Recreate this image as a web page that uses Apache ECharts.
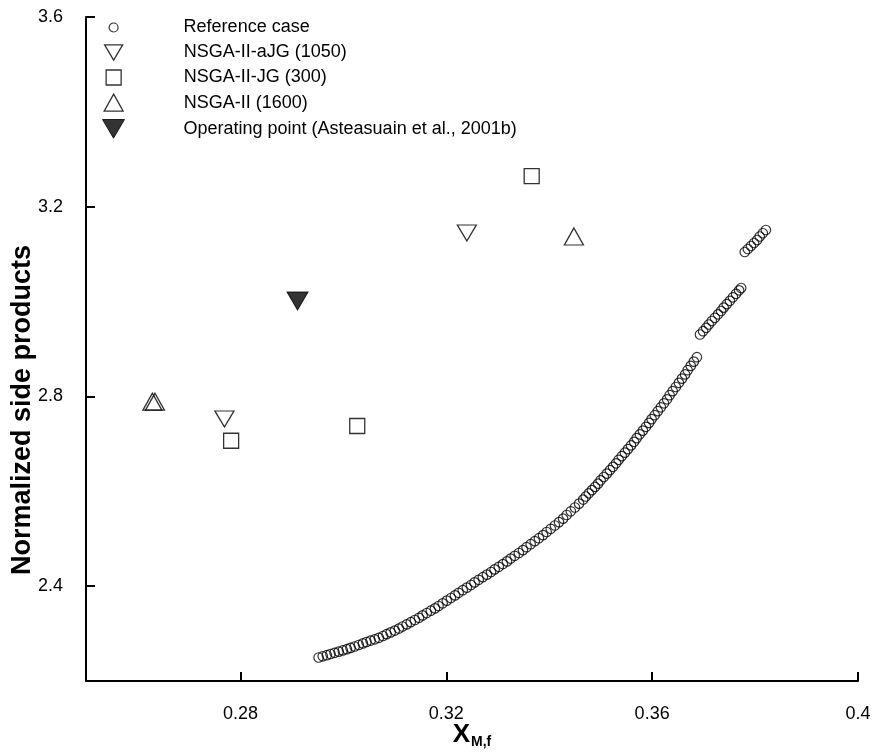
<!DOCTYPE html>
<html>
<head>
<meta charset="utf-8">
<script src="https://cdn.jsdelivr.net/npm/echarts@6/dist/echarts.min.js"></script>
<style>
  html, body { margin: 0; padding: 0; background: #fff; }
  #chart { width: 873px; height: 753px; }
</style>
</head>
<body>
<div id="chart"></div>
<script>
// Reference Pareto front: conversion X_M,f vs normalized side products
const referenceCase = [
  [0.2952, 2.2495], [0.2960, 2.2521], [0.2968, 2.2544], [0.2975, 2.2569], [0.2983, 2.2595],
  [0.2991, 2.2620], [0.2999, 2.2645], [0.3007, 2.2670], [0.3014, 2.2698], [0.3022, 2.2727],
  [0.3030, 2.2759], [0.3038, 2.2793], [0.3045, 2.2822], [0.3053, 2.2852], [0.3061, 2.2879],
  [0.3069, 2.2911], [0.3077, 2.2949], [0.3084, 2.2987], [0.3092, 2.3025], [0.3100, 2.3063],
  [0.3108, 2.3105], [0.3115, 2.3149], [0.3123, 2.3193], [0.3131, 2.3240], [0.3139, 2.3286],
  [0.3147, 2.3333], [0.3154, 2.3383], [0.3162, 2.3434], [0.3170, 2.3482], [0.3178, 2.3531],
  [0.3185, 2.3581], [0.3193, 2.3638], [0.3201, 2.3695], [0.3209, 2.3750], [0.3217, 2.3805],
  [0.3224, 2.3860], [0.3232, 2.3914], [0.3240, 2.3969], [0.3248, 2.4024], [0.3255, 2.4079],
  [0.3263, 2.4134], [0.3271, 2.4189], [0.3279, 2.4243], [0.3287, 2.4298], [0.3294, 2.4353],
  [0.3302, 2.4408], [0.3310, 2.4465], [0.3318, 2.4522], [0.3325, 2.4581], [0.3333, 2.4640],
  [0.3341, 2.4699], [0.3349, 2.4760], [0.3356, 2.4821], [0.3364, 2.4884], [0.3372, 2.4948],
  [0.3380, 2.5011], [0.3388, 2.5076], [0.3395, 2.5142], [0.3403, 2.5209], [0.3411, 2.5279],
  [0.3419, 2.5350], [0.3427, 2.5424], [0.3434, 2.5500], [0.3442, 2.5578], [0.3450, 2.5658],
  [0.3458, 2.5740], [0.3466, 2.5825],
  [0.3471, 2.5890], [0.3477, 2.5957], [0.3483, 2.6025], [0.3489, 2.6092], [0.3495, 2.6162],
  [0.3500, 2.6232], [0.3506, 2.6301], [0.3512, 2.6373], [0.3518, 2.6445], [0.3524, 2.6516],
  [0.3530, 2.6590], [0.3535, 2.6664], [0.3541, 2.6740], [0.3547, 2.6814], [0.3553, 2.6889],
  [0.3559, 2.6967], [0.3565, 2.7043], [0.3570, 2.7121], [0.3576, 2.7201], [0.3582, 2.7279],
  [0.3588, 2.7360], [0.3594, 2.7442], [0.3599, 2.7522], [0.3605, 2.7604], [0.3611, 2.7689],
  [0.3617, 2.7771], [0.3623, 2.7855], [0.3629, 2.7939], [0.3634, 2.8026], [0.3640, 2.8112],
  [0.3646, 2.8199], [0.3652, 2.8287], [0.3658, 2.8376], [0.3664, 2.8464], [0.3669, 2.8553],
  [0.3675, 2.8644], [0.3681, 2.8734], [0.3687, 2.8827],
  [0.3693, 2.9306], [0.3699, 2.9375], [0.3705, 2.9447], [0.3710, 2.9517], [0.3716, 2.9590],
  [0.3722, 2.9658], [0.3728, 2.9731], [0.3734, 2.9801], [0.3739, 2.9873], [0.3745, 2.9945],
  [0.3751, 3.0016], [0.3757, 3.0090], [0.3763, 3.0164], [0.3769, 3.0237], [0.3773, 3.0286],
  [0.3780, 3.1045], [0.3786, 3.1108], [0.3792, 3.1172], [0.3798, 3.1235], [0.3804, 3.1298],
  [0.3809, 3.1372], [0.3815, 3.1441], [0.3821, 3.1509]
];

// Best solutions found by each algorithm (evaluations in parentheses)
const nsgaAJG = [[0.3240, 3.1446], [0.2769, 2.7524]];
const nsgaJG = [[0.3366, 3.2647], [0.2782, 2.7066], [0.3027, 2.7376]];
const nsga2 = [[0.2629, 2.7889], [0.2634, 2.7889], [0.3448, 3.1372]];
const operatingPoint = [[0.2911, 3.0012]];

const seriesNames = [
  'Reference case',
  'NSGA-II-aJG (1050)',
  'NSGA-II-JG (300)',
  'NSGA-II (1600)',
  'Operating point (Asteasuain et al., 2001b)'
];

const xTicks = [0.28, 0.32, 0.36, 0.4];
const xTickLabels = ['0.28', '0.32', '0.36', '0.4'];
const yTicks = [2.4, 2.8, 3.2, 3.6];
const yTickLabels = ['2.4', '2.8', '3.2', '3.6'];

const FONT = '"Liberation Sans", Arial, Helvetica, sans-serif';
const downTri = 'path://M0,0L20,0L10,17Z';

function labelFor(values, labels) {
  return function (v) {
    for (let i = 0; i < values.length; i++) {
      if (Math.abs(values[i] - v) < 1e-9) return labels[i];
    }
    return '';
  };
}

const hollow = { color: 'transparent', borderColor: '#000', borderWidth: 1.3 };
const filled = { color: '#000', borderColor: '#000', borderWidth: 1 };

// marker definitions for the plot and for the legend rows
const markers = [
  { symbol: 'circle', size: 9.5, legendSize: [9, 9], style: { color: 'transparent', borderColor: '#000', borderWidth: 1.2 } },
  { symbol: downTri, size: [19, 16], legendSize: [18, 16], style: hollow },
  { symbol: 'rect', size: 15, legendSize: [15, 15], style: hollow },
  { symbol: 'triangle', size: [19, 17], legendSize: [19, 17], style: hollow },
  { symbol: downTri, size: [21, 18], legendSize: [22, 19], style: filled }
];
const seriesData = [referenceCase, nsgaAJG, nsgaJG, nsga2, operatingPoint];

// legend layout: symbol column centre, text column start, row centres
const legendSymbolX = 113;
const legendTextX = 183;
const legendRowCenters = [26, 51, 76, 101, 127];
const legendFontSize = 18;

const legends = seriesNames.map(function (name, i) {
  const w = markers[i].legendSize[0];
  const h = markers[i].legendSize[1];
  const left = legendSymbolX - w / 2;
  const gap = legendTextX - (left + w + 5);
  const boxH = Math.max(h, legendFontSize);
  return {
    data: [name],
    orient: 'vertical',
    left: left,
    top: legendRowCenters[i] + 1.5 - boxH / 2,
    padding: 0,
    itemWidth: w,
    itemHeight: h,
    selectedMode: false,
    icon: markers[i].symbol,
    itemStyle: markers[i].style,
    formatter: function (n) { return '{t|' + n + '}'; },
    textStyle: {
      fontFamily: FONT, fontSize: legendFontSize, color: '#000',
      rich: { t: { fontFamily: FONT, fontSize: legendFontSize, color: '#000', padding: [0, 0, 0, gap] } }
    }
  };
});

const series = seriesNames.map(function (name, i) {
  return {
    name: name,
    type: 'scatter',
    data: seriesData[i],
    symbol: markers[i].symbol,
    symbolSize: markers[i].size,
    itemStyle: markers[i].style,
    emphasis: { disabled: true },
    silent: true,
    z: 2 + i
  };
});

const chart = echarts.init(document.getElementById('chart'), null, { renderer: 'canvas' });
chart.setOption({
  animation: false,
  backgroundColor: '#fff',
  textStyle: { fontFamily: FONT, color: '#000' },
  grid: { left: 86, right: 15, top: 17, bottom: 72, containLabel: false, outerBoundsMode: 'none' },
  legend: legends,
  tooltip: { show: false },
  xAxis: {
    type: 'value',
    min: 0.25,
    max: 0.4,
    name: '{x|X}{s|M,f}',
    nameLocation: 'middle',
    nameGap: 41,
    nameMoveOverlap: false,
    nameTextStyle: {
      rich: {
        x: { fontFamily: FONT, fontWeight: 'bold', fontSize: 26, color: '#000', verticalAlign: 'top' },
        s: { fontFamily: FONT, fontWeight: 'bold', fontSize: 14, color: '#000', padding: [13, 0, 0, 1], verticalAlign: 'top' }
      }
    },
    axisLine: { show: true, onZero: false, lineStyle: { color: '#000', width: 2 } },
    axisTick: { show: true, inside: true, length: 9, customValues: xTicks, lineStyle: { color: '#000', width: 2 } },
    axisLabel: {
      customValues: xTicks,
      formatter: labelFor(xTicks, xTickLabels),
      fontFamily: FONT, fontSize: 18, color: '#000', margin: 24
    },
    splitLine: { show: false }
  },
  yAxis: {
    type: 'value',
    min: 2.2,
    max: 3.6,
    name: 'Normalized side products',
    nameLocation: 'middle',
    nameGap: 50,
    nameMoveOverlap: false,
    nameTextStyle: { fontFamily: FONT, fontWeight: 'bold', fontSize: 27, color: '#000', padding: [0, 122, 0, 0] },
    axisLine: { show: true, onZero: false, lineStyle: { color: '#000', width: 2 } },
    axisTick: { show: true, inside: true, length: 9, customValues: yTicks, lineStyle: { color: '#000', width: 2 } },
    axisLabel: {
      customValues: yTicks,
      formatter: labelFor(yTicks, yTickLabels),
      fontFamily: FONT, fontSize: 18, color: '#000', margin: 23
    },
    splitLine: { show: false }
  },
  series: series
});
</script>
</body>
</html>
